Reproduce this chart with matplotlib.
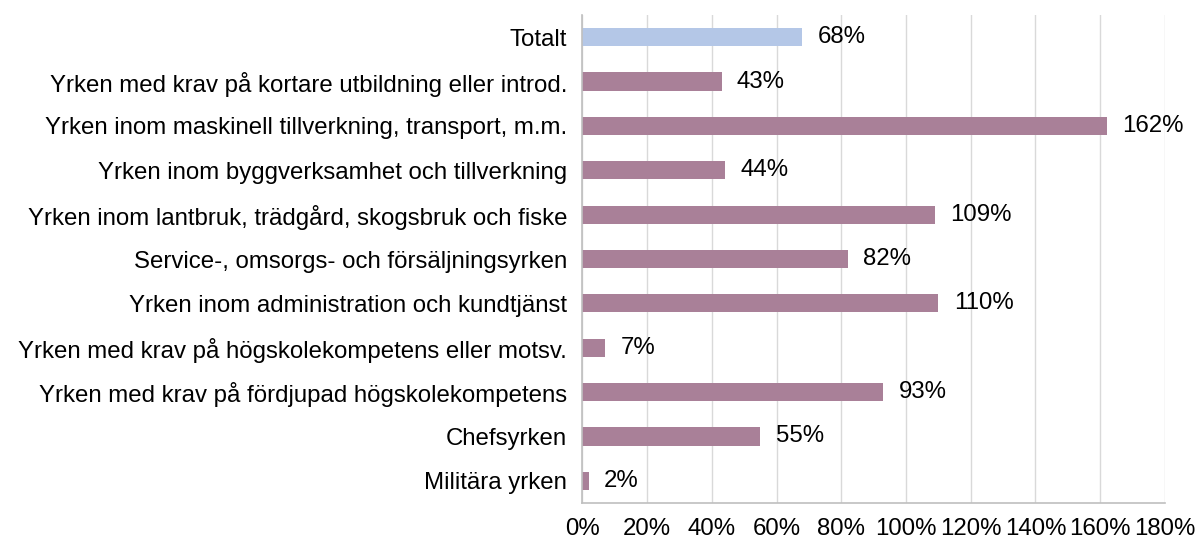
import matplotlib
matplotlib.use("Agg")
import matplotlib.pyplot as plt
from matplotlib.ticker import FuncFormatter, MultipleLocator

plt.rcParams['font.family'] = ['Liberation Sans', 'DejaVu Sans']

categories = [
    "Totalt",
    "Yrken med krav på kortare utbildning eller introd.",
    "Yrken inom maskinell tillverkning, transport, m.m.",
    "Yrken inom byggverksamhet och tillverkning",
    "Yrken inom lantbruk, trädgård, skogsbruk och fiske",
    "Service-, omsorgs- och försäljningsyrken",
    "Yrken inom administration och kundtjänst",
    "Yrken med krav på högskolekompetens eller motsv.",
    "Yrken med krav på fördjupad högskolekompetens",
    "Chefsyrken",
    "Militära yrken",
]
values = [68, 43, 162, 44, 109, 82, 110, 7, 93, 55, 2]
value_labels = ["68%", "43%", "162%", "44%", "109%", "82%", "110%", "7%", "93%", "55%", "2%"]

FS = 17.3

fig = plt.figure(figsize=(11.96, 5.40), dpi=100)
ax = fig.add_axes([0.487, 0.0685, 0.487, 0.9037])

colors = ["#B4C7E7"] + ["#A98098"] * (len(values) - 1)
ypos = list(range(len(values)))
ax.barh(ypos, values, height=0.41, color=colors, zorder=3)
ax.set_ylim(len(values) - 0.5, -0.5)
ax.set_xlim(0, 180)
ax.set_yticks(ypos)
ax.set_yticklabels(categories, fontsize=FS)
ax.xaxis.set_major_locator(MultipleLocator(20))
ax.xaxis.set_major_formatter(FuncFormatter(lambda v, p: f"{int(round(v))}%"))
ax.tick_params(axis='x', labelsize=FS, length=0, pad=11)
ax.tick_params(axis='y', length=0, pad=11)
ax.grid(axis='x', color='#D9D9D9', linewidth=1, zorder=0)
for s in ['top', 'right']:
    ax.spines[s].set_visible(False)
for s in ['left', 'bottom']:
    ax.spines[s].set_color('#BFBFBF')
    ax.spines[s].set_linewidth(1.2)
    ax.spines[s].set_zorder(4)

for y, v, lab in zip(ypos, values, value_labels):
    ax.annotate(lab, (v, y), xytext=(11, 0), textcoords='offset points',
                va='center', ha='left', fontsize=FS, color='black')

fig.savefig("out.png", dpi=100, facecolor='white')
